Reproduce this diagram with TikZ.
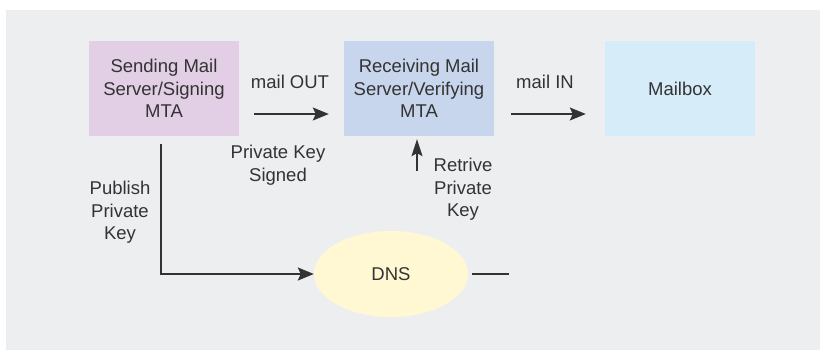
\documentclass[tikz,border=0pt]{standalone}
\usepackage{fontspec}
\setmainfont{Liberation Sans}
\usetikzlibrary{shapes.geometric, arrows.meta}
\definecolor{BgGray}{HTML}{EDEEF0}
\definecolor{SendPink}{HTML}{E2CEE5}
\definecolor{RecvBlue}{HTML}{C8D6ED}
\definecolor{BoxSky}{HTML}{D6ECF9}
\definecolor{DnsCream}{HTML}{FFF8D3}
\definecolor{Ink}{HTML}{333333}

\begin{document}
\begin{tikzpicture}[x=1pt, y=-1pt,
          bx/.style={rectangle, minimum width=150pt, minimum height=95pt,
                     inner sep=0pt, align=center, text=Ink,
                     font=\fontsize{18.5}{22.5}\selectfont},
          lbl/.style={align=center, text=Ink, inner sep=0pt,
                      font=\fontsize{18.5}{22.5}\selectfont},
          arr/.style={-{Stealth[length=16pt, width=13pt, inset=3pt]},
                      draw=Ink, line width=1.6pt}
        ]
        \useasboundingbox (0,0) rectangle (820,351);
        \fill[BgGray] (6,10) rectangle (820,350);

        \node[bx, fill=SendPink] (send) at (164, 88.5)
              {Sending Mail\\Server/Signing\\MTA};
        \node[bx, fill=RecvBlue] (recv) at (419, 88.5)
              {Receiving Mail\\Server/Verifying\\MTA};
        \node[bx, fill=BoxSky]   (mbox) at (680, 88.5) {Mailbox};
        \node[ellipse, fill=DnsCream, minimum width=154pt,
              minimum height=86pt, inner sep=0pt, text=Ink,
              font=\fontsize{18.5}{22.5}\selectfont] (dns) at (391, 274) {DNS};

        \node[lbl] (out)  at (290, 82)  {mail OUT};
        \node[lbl] (in)   at (545, 82)  {mail IN};
        \node[lbl] (sign) at (278, 165) {Private Key\\Signed};
        \node[lbl] (retr) at (463, 189.5) {Retrive\\Private\\Key};
        \node[lbl] (publ) at (120, 212.5) {Publish\\Private\\Key};

        \draw[arr, shorten <=15pt, shorten >=15pt]
              ([yshift=-25.5pt]send.east) -- ([yshift=-25.5pt]recv.west);
        \draw[arr, shorten <=17pt, shorten >=19pt]
              ([yshift=-25.5pt]recv.east) -- ([yshift=-25.5pt]mbox.west);

        \coordinate (rtail) at (417, 171);
        \draw[-{Stealth[length=17pt, width=11pt, inset=3pt]}, draw=Ink,
              line width=1.2pt, shorten >=3pt]
              (rtail) -- (rtail |- recv.south);

        \draw[arr, line width=2pt, shorten <=8pt]
              ([xshift=-3pt]send.south) |- (dns.west);

        \coordinate (dnsend) at (509, 274);
        \draw[draw=Ink, line width=2pt, shorten <=4pt] (dns.east) -- (dnsend);
      \end{tikzpicture}
\end{document}
